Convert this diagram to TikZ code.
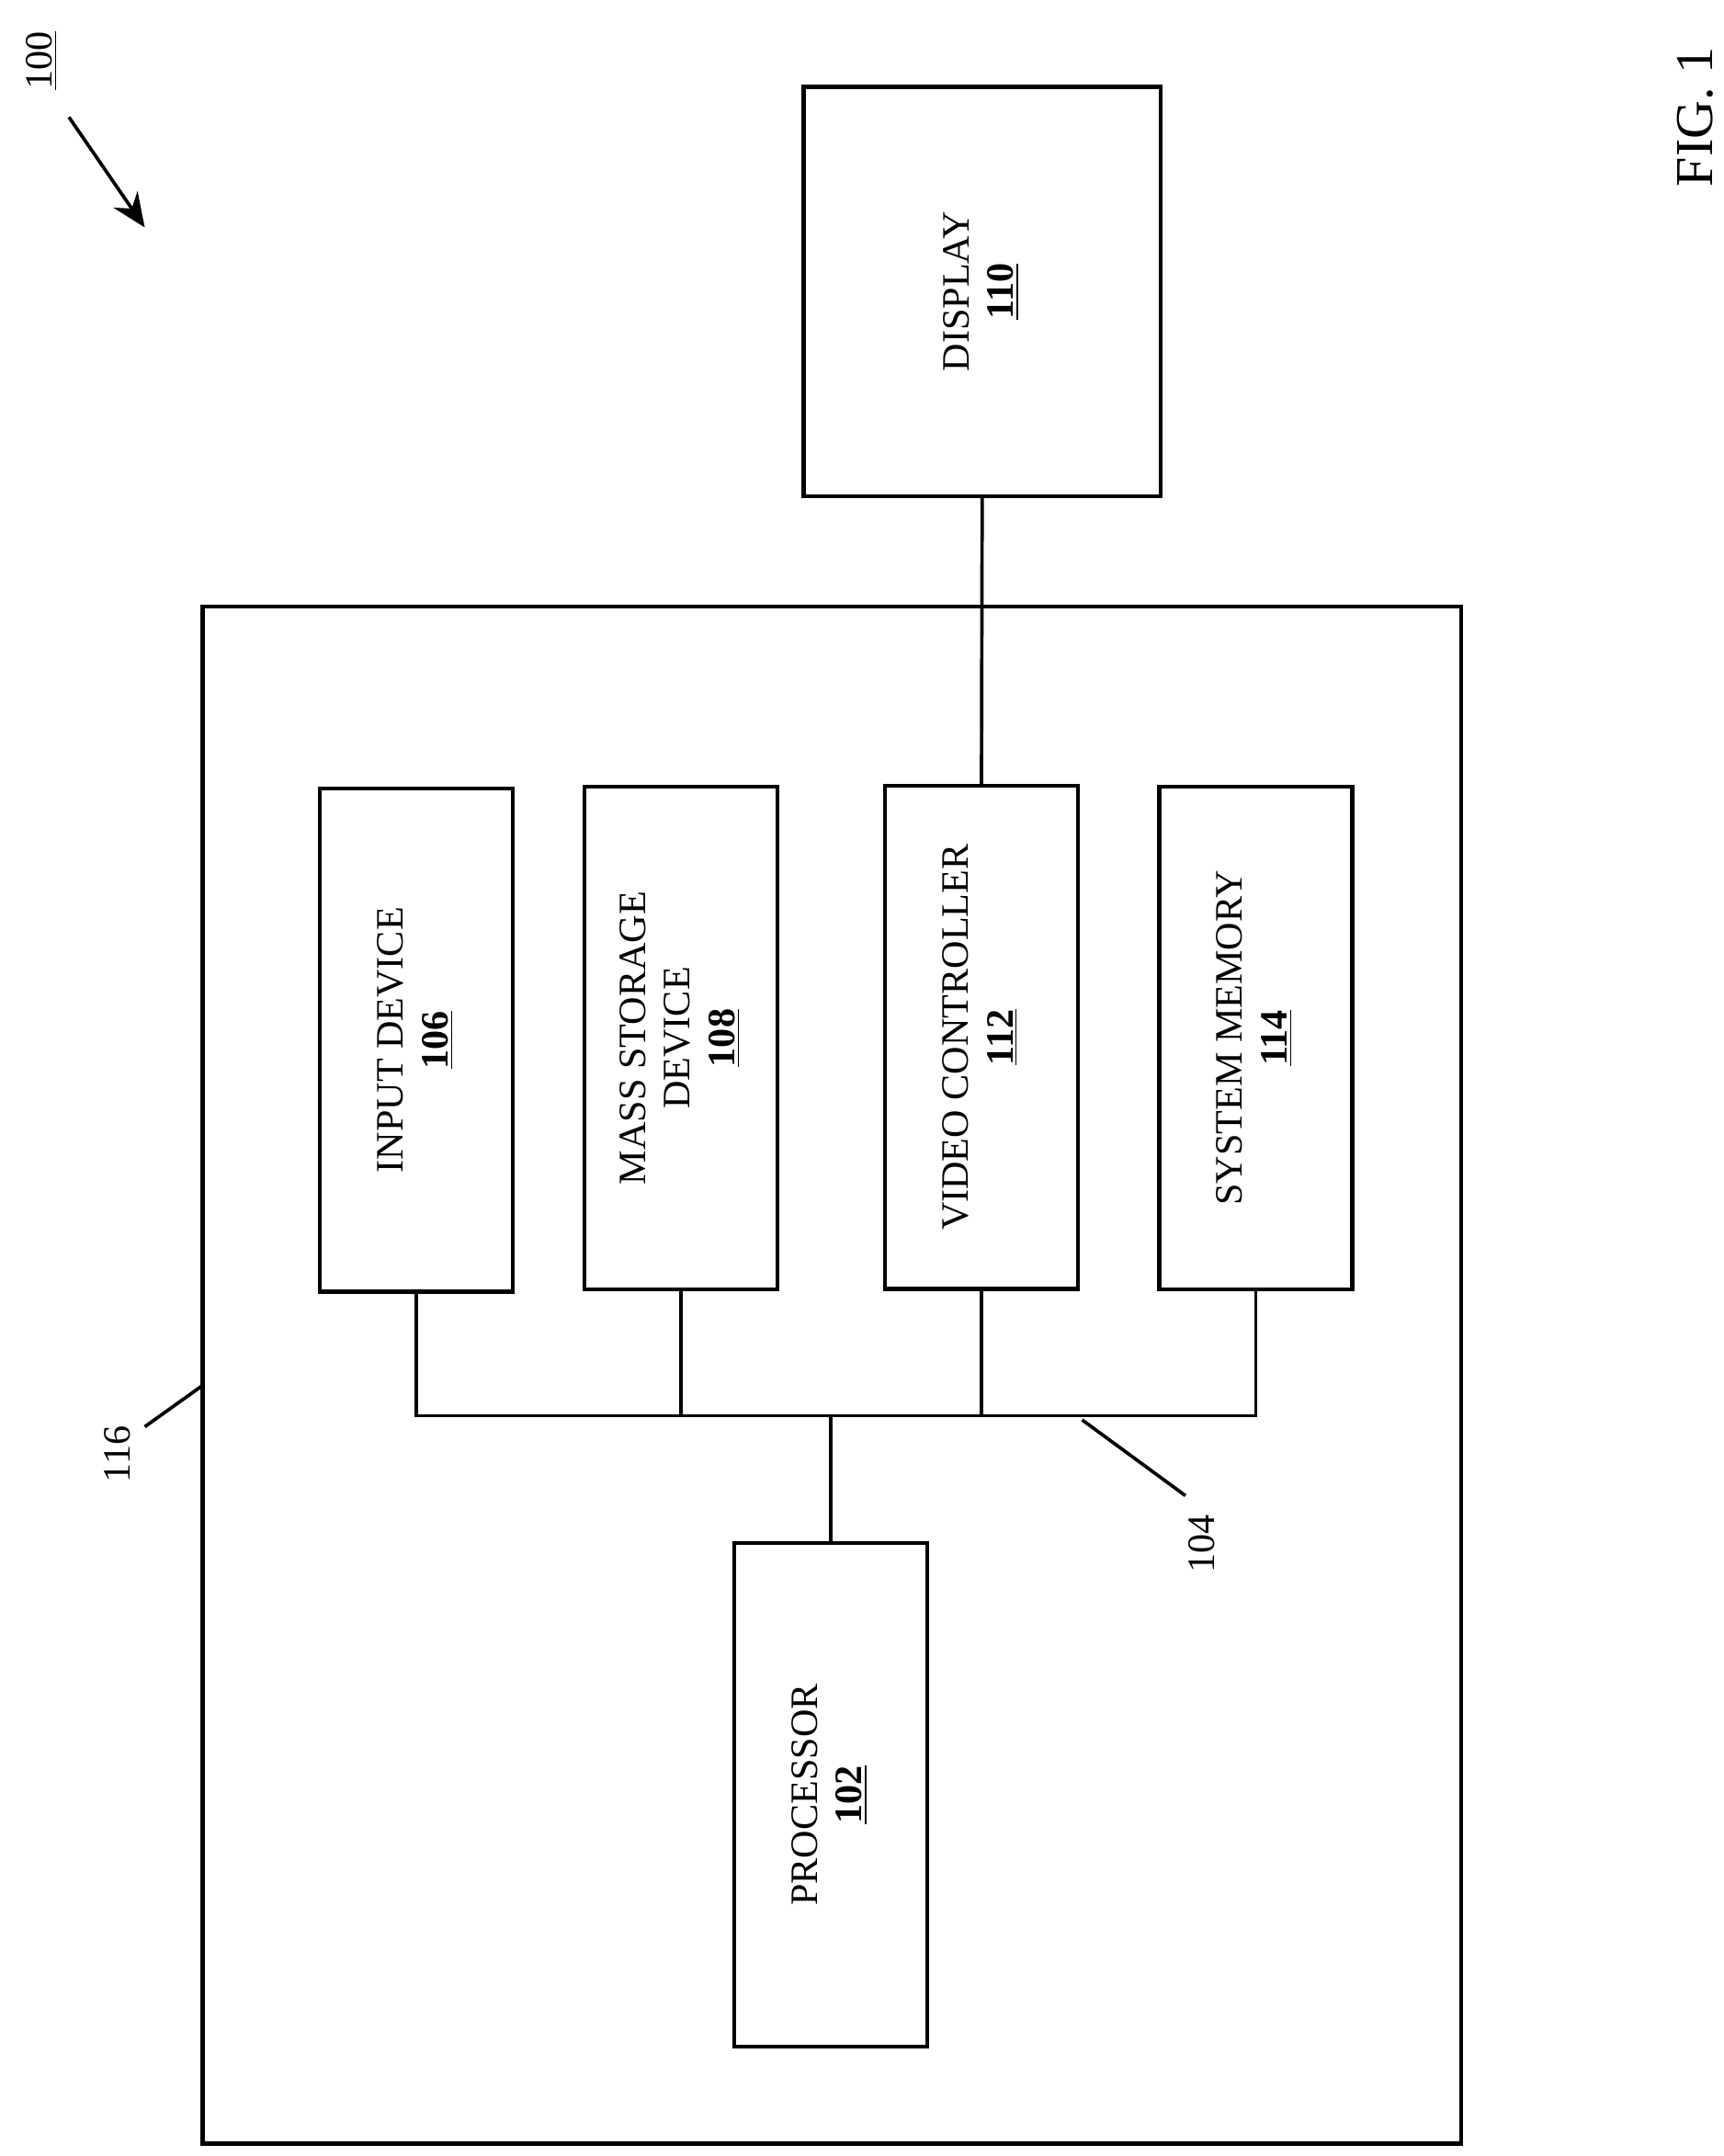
\documentclass[tikz,border=0pt]{standalone}
\usepackage{fontspec}
\setmainfont{Liberation Serif}
\usepackage{graphicx}
\usetikzlibrary{arrows.meta, positioning}
\tikzset{
    block/.style={rectangle, draw=black, line width=1.6pt, minimum width=2.8cm, minimum height=7.3cm, inner sep=0pt, font=\fontsize{16}{18.5}\selectfont},
    wire/.style={line width=1.4pt},
    callout/.style={font=\fontsize{16}{18.5}\selectfont, rotate=90}
}
\newcommand{\vtext}[1]{\rotatebox{90}{\begin{tabular}{@{}c@{}}#1\end{tabular}}}
\newcommand{\refnum}[1]{\textbf{\underline{#1}}}

\begin{document}
\begin{tikzpicture}[x=0.02cm, y=0.02cm]
        \useasboundingbox (0,0) rectangle (1250,1564);

        % Outer housing
        \draw[line width=1.6pt] (147,9) rectangle (1060,1124);

        % Blocks
        \node (display) [block, minimum width=5.18cm, minimum height=5.94cm] at (712.5,1352.5) {\vtext{DISPLAY\\\refnum{110}}};
        \node (input) [block] at (302,809.5) {\vtext{INPUT DEVICE\\\refnum{106}}};
        \node (storage) [block] at (494,811) {\vtext{MASS STORAGE\\DEVICE\\\refnum{108}}};
        \node (video) [block] at (712,811.5) {\vtext{VIDEO CONTROLLER\\\refnum{112}}};
        \node (memory) [block] at (911,811) {\vtext{SYSTEM MEMORY\\\refnum{114}}};
        \node (processor) [block] at (602.5,262) {\vtext{PROCESSOR\\\refnum{102}}};

        % Bus
        \coordinate (bus) at (0,537);
        \draw[wire] (input.south) -- (input.south |- bus) -- (memory.south |- bus) -- (memory.south);
        \draw[wire] (storage.south) -- (storage.south |- bus);
        \draw[wire] (video.south) -- (video.south |- bus);
        \draw[wire] (processor.north) -- (processor.north |- bus);
        \draw[wire] (display.south) -- (video.north);

        % Reference labels
        \node (lbl116) [callout] at (85,509) {116};
        \coordinate (tip116) at (147,559);
        \draw[wire] (105,529) -- (tip116);
        \node (lbl104) [callout] at (872,444) {104};
        \coordinate (tip104) at (785,534);
        \draw[wire] (860,479) -- (tip104);
        \node (lbl100) [callout] at (30,1520) {\underline{100}};
        \coordinate (tip100) at (105,1399);
        \draw[wire, -{Stealth[length=14pt, width=12pt]}] (50,1479) -- (tip100);
        \node (fig) [rotate=90, font=\fontsize{22}{26}\selectfont] at (1230,1479) {FIG. 1};

    \end{tikzpicture}
\end{document}
